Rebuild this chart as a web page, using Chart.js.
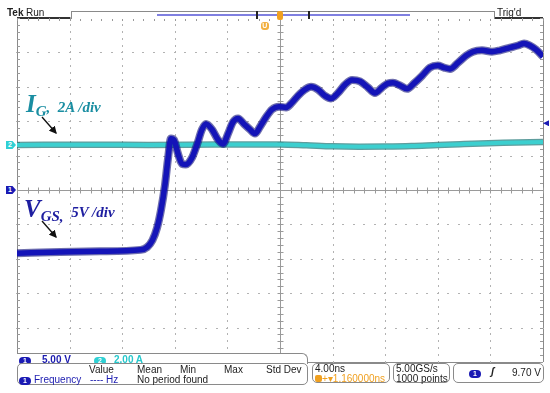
<!DOCTYPE html>
<html>
<head>
<meta charset="utf-8">
<script src="https://cdn.jsdelivr.net/npm/chart.js@4.4.1/dist/chart.umd.min.js"></script>
<style>
  body { margin: 0; background: #fff; }
  #wrap { position: relative; width: 550px; height: 393px; overflow: hidden; font-family: "Liberation Sans", Arial, sans-serif; color: #222; }
  #scope { position: absolute; left: 0; top: 0; }
  .t { position: absolute; white-space: nowrap; font-size: 10px; line-height: 10px; }
  .box { position: absolute; border: 1px solid #8a8a8a; border-radius: 5px; box-sizing: border-box; background: #fff; }
  .oval { display: inline-block; width: 12px; height: 8px; border-radius: 5px; color: #fff; font-size: 7px; line-height: 8px; text-align: center; font-weight: bold; vertical-align: 0px; }
  .b1 { background: #1a1ab4; }
  .b2 { background: #2fd0d4; }
  .blue { color: #1c1cb0; }
  .cyan { color: #27c8cc; }
  .orange { color: #f0a020; }
  .lbl { position: absolute; white-space: nowrap; font-family: "Liberation Serif", "DejaVu Serif", serif; font-weight: bold; font-style: italic; }
  .mk { position: absolute; width: 10px; height: 8px; color: #fff; font-size: 7px; line-height: 8px; font-weight: bold; text-indent: 2px;
        clip-path: polygon(0 0, 65% 0, 100% 50%, 65% 100%, 0 100%); }
</style>
</head>
<body>
<div id="wrap">
  <canvas id="scope" width="550" height="393"></canvas>

  <!-- top status line -->
  <div class="t" style="left:7px;top:8px;font-weight:bold;">Tek</div>
  <div class="t" style="left:26px;top:8px;">Run</div>
  <div style="position:absolute;left:71px;top:11px;width:424px;height:8px;border:1px solid #8a8a8a;border-bottom:none;box-sizing:border-box;background:#fff;"></div>
  <div style="position:absolute;left:157px;top:14px;width:253px;height:2px;background:#8080e0;"></div>
  <div style="position:absolute;left:256px;top:11px;width:2px;height:8px;background:#222;"></div>
  <div style="position:absolute;left:308px;top:11px;width:2px;height:8px;background:#222;"></div>
  <div class="t" style="left:497px;top:8px;">Trig'd</div>
  <div id="trigT" style="position:absolute;top:11px;width:6px;height:9px;background:#f0a020;border-radius:2px;"></div>
  <div id="trigU" class="t" style="top:22px;width:8px;height:8px;border-radius:3px;background:#f2b040;color:#fff;font-size:7px;line-height:8px;text-align:center;font-weight:bold;">U</div>

  <!-- channel markers -->
  <div id="mk2" class="mk" style="left:6px;background:#2fd0d4;">2</div>
  <div id="mk1" class="mk" style="left:6px;background:#1a1ab4;">1</div>
  <div id="trigLvl" style="position:absolute;left:543px;width:6px;height:6px;background:#1a1ab4;clip-path:polygon(0 50%,100% 0,100% 100%);"></div>

  <!-- trace labels -->
  <div class="lbl" style="left:26px;top:90px;color:#1a8ea2;"><span style="font-size:25px;">I</span><span style="font-size:15px;position:relative;top:4px;">G</span><span style="font-size:15px;">,&nbsp;&nbsp;2A /div</span></div>
  <div class="lbl" style="left:24px;top:195px;color:#1e1ea0;"><span style="font-size:25px;">V</span><span style="font-size:15px;position:relative;top:4px;">GS,</span><span style="font-size:15px;">&nbsp;&nbsp;5V /div</span></div>
  <svg style="position:absolute;left:0;top:0;" width="550" height="393">
    <defs><marker id="ah" markerWidth="6" markerHeight="6" refX="5" refY="3" orient="auto"><path d="M0,0 L6,3 L0,6 z" fill="#111"/></marker></defs>
    <line x1="42" y1="117" x2="56" y2="133" stroke="#111" stroke-width="1.3" marker-end="url(#ah)"/>
    <line x1="42" y1="221" x2="56" y2="237" stroke="#111" stroke-width="1.3" marker-end="url(#ah)"/>
  </svg>

  <!-- bottom readouts -->
  <div style="position:absolute;left:17px;top:353px;width:291px;height:11px;border-top:1px solid #8a8a8a;border-right:1px solid #8a8a8a;border-top-right-radius:6px;box-sizing:border-box;background:#fff;"></div>
  <div class="t" style="left:19px;top:355px;font-weight:bold;"><span class="oval b1">1</span><span class="blue" style="margin-left:11px;">5.00 V</span></div>
  <div class="t" style="left:94px;top:355px;font-weight:bold;"><span class="oval b2">2</span><span class="cyan" style="margin-left:8px;">2.00 A</span></div>

  <div class="box" style="left:17px;top:363px;width:291px;height:22px;"></div>
  <div class="t" style="left:89px;top:365px;">Value</div>
  <div class="t" style="left:137px;top:365px;">Mean</div>
  <div class="t" style="left:180px;top:365px;">Min</div>
  <div class="t" style="left:224px;top:365px;">Max</div>
  <div class="t" style="left:266px;top:365px;">Std Dev</div>
  <div class="t" style="left:19px;top:375px;"><span class="oval b1">1</span><span class="blue" style="margin-left:3px;">Frequency</span></div>
  <div class="t blue" style="left:90px;top:375px;">---- Hz</div>
  <div class="t" style="left:137px;top:375px;">No period found</div>

  <div class="box" style="left:312px;top:363px;width:78px;height:20px;"></div>
  <div class="t" style="left:315px;top:364px;">4.00ns</div>
  <div class="t orange" style="left:315px;top:374px;"><span style="display:inline-block;width:7px;height:7px;background:#f0a020;border-radius:2px;"></span>+▾1.160000ns</div>

  <div class="box" style="left:393px;top:363px;width:57px;height:20px;"></div>
  <div class="t" style="left:396px;top:364px;">5.00GS/s</div>
  <div class="t" style="left:396px;top:374px;">1000 points</div>

  <div class="box" style="left:453px;top:363px;width:91px;height:20px;"></div>
  <div class="t" style="left:469px;top:368px;"><span class="oval b1">1</span></div>
  <div class="t" style="left:491px;top:367px;font-style:italic;font-weight:bold;">ʃ</div>
  <div class="t" style="left:512px;top:368px;">9.70 V</div>
</div>

<script>
// horizontal: 4.00 ns/div, 10 divisions, trigger at centre
const nsPerDiv = 4;
const timeMin = -20, timeMax = 20;

// channel 1: V_GS, 5 V/div, ground at centre
const ch1VoltsPerDiv = 5;
const ch1OffsetDiv = 0;
const vgsTime = [-20, -16.7, -13.7, -10.6, -10.1, -9.7, -9.35, -9.05, -8.75, -8.52, -8.29, -8.06, -7.76, -7.45, -7.15,
  -6.69, -6.31, -5.93, -5.63, -5.17, -4.71, -4.33, -3.95, -3.57, -3.19, -2.74, -2.28, -1.90, -1.52, -1.06, -0.61, -0.08,
  0.46, 0.91, 1.37, 1.90, 2.36, 2.89, 3.42, 3.88, 4.41, 4.94, 5.48, 6.08, 6.69, 7.22, 7.76, 8.21, 8.59, 9.13, 9.66,
  10.19, 10.8, 11.4, 12.0, 12.47, 12.93, 13.54, 14.14, 14.68, 15.36, 16.12, 16.73, 17.49, 18.1, 18.56, 19.0, 19.47, 20.0];
const vgsVolts = [-9.2, -9.0, -8.9, -8.7, -8.3, -7.3, -5.5, -2.9, 0.7, 4.5, 7.5, 7.3, 5.3, 3.8, 3.7,
  4.7, 6.6, 8.8, 9.6, 8.8, 7.3, 6.7, 8.2, 9.9, 10.4, 9.6, 8.8, 8.2, 9.2, 10.6, 11.7, 12.1,
  12.0, 12.7, 13.7, 14.6, 15.0, 14.6, 13.7, 13.3, 14.1, 15.3, 16.0, 15.8, 14.9, 14.1, 14.9, 15.5, 15.6, 15.2, 14.7,
  15.5, 16.6, 17.8, 18.1, 17.8, 17.6, 18.5, 19.5, 20.1, 20.3, 20.1, 20.3, 20.7, 21.0, 21.3, 21.0, 20.4, 19.4];

// channel 2: I_G, 2 A/div
const ch2AmpsPerDiv = 2;
const ch2OffsetDiv = 1.31;
const igTime = [-20, -14, -10, -5, 0, 2, 4, 6, 8, 10, 12, 14, 17, 20];
const igAmps = [0, 0.01, 0, 0.02, 0.03, -0.02, -0.08, -0.1, -0.09, -0.06, 0, 0.05, 0.12, 0.17];

const trigLevelVolts = 9.70;
const trigDelayNs = -1.16;

const toPts = (ts, vs, perDiv, off) => ts.map((t, i) => ({ x: t, y: vs[i] / perDiv + off }));
const vgsPts = toPts(vgsTime, vgsVolts, ch1VoltsPerDiv, ch1OffsetDiv);
const igPts = toPts(igTime, igAmps, ch2AmpsPerDiv, ch2OffsetDiv);

// dotted Tek graticule + minor ticks on centre lines and borders
const graticule = {
  id: 'graticule',
  beforeDatasetsDraw(chart) {
    const { ctx, chartArea: a, scales: { x, y } } = chart;
    ctx.save();
    ctx.fillStyle = '#b2b2b2';
    for (let d = -4; d <= 4; d++) {
      if (d === 0) continue;
      const py = Math.round(y.getPixelForValue(d));
      for (let m = 0; m <= 50; m++) {
        const px = x.getPixelForValue(timeMin + m * nsPerDiv / 5);
        ctx.fillRect(Math.round(px) - 1, py, 2, 1);
      }
    }
    for (let d = timeMin + nsPerDiv; d < timeMax; d += nsPerDiv) {
      if (d === 0) continue;
      const px = Math.round(x.getPixelForValue(d));
      for (let m = 0; m <= 50; m++) {
        const py = y.getPixelForValue(-5 + m * 0.2);
        ctx.fillRect(px, Math.round(py) - 1, 1, 2);
      }
    }
    ctx.strokeStyle = '#9a9a9a';
    ctx.lineWidth = 1;
    ctx.beginPath();
    const x0 = Math.round(x.getPixelForValue(0)) + 0.5;
    const y0 = Math.round(y.getPixelForValue(0)) + 0.5;
    for (let m = 0; m <= 50; m++) {
      const px = Math.round(x.getPixelForValue(timeMin + m * nsPerDiv / 5)) + 0.5;
      ctx.moveTo(px, y0 - 3); ctx.lineTo(px, y0 + 3);
      ctx.moveTo(px, a.top); ctx.lineTo(px, a.top + 3);
      const py = Math.round(y.getPixelForValue(-5 + m * 0.2)) + 0.5;
      ctx.moveTo(x0 - 3, py); ctx.lineTo(x0 + 3, py);
      ctx.moveTo(a.left, py); ctx.lineTo(a.left + 3, py);
      ctx.moveTo(a.right, py); ctx.lineTo(a.right - 3, py);
    }
    ctx.stroke();
    ctx.restore();
  }
};

const solidGrid = (edge, edgeColor) => (c) => {
  const v = c.tick.value;
  if (v === 0) return '#9a9a9a';
  if (v === edge) return edgeColor;
  if (v === -edge) return '#8a8a8a';
  return 'rgba(0,0,0,0)';
};

const chart = new Chart(document.getElementById('scope'), {
  type: 'line',
  data: {
    datasets: [
      { data: vgsPts, borderColor: '#1414b8', borderWidth: 5.5, cubicInterpolationMode: 'monotone', pointRadius: 0, order: 0 },
      { data: vgsPts, borderColor: 'rgba(15,15,120,0.6)', borderWidth: 8, cubicInterpolationMode: 'monotone', pointRadius: 0, order: 1 },
      { data: igPts, borderColor: '#3ccfcf', borderWidth: 4, cubicInterpolationMode: 'monotone', pointRadius: 0, order: 2 },
      { data: igPts, borderColor: 'rgba(25,115,115,0.7)', borderWidth: 6.5, cubicInterpolationMode: 'monotone', pointRadius: 0, order: 3 }
    ]
  },
  options: {
    responsive: false,
    animation: false,
    devicePixelRatio: 1,
    layout: { padding: { left: 17, right: 7, top: 18, bottom: 31 } },
    plugins: { legend: { display: false }, tooltip: { enabled: false } },
    scales: {
      x: {
        type: 'linear', min: timeMin, max: timeMax,
        ticks: { display: false, stepSize: nsPerDiv },
        grid: { drawTicks: false, color: solidGrid(timeMax, '#8a8a8a') },
        border: { display: false }
      },
      y: {
        type: 'linear', min: -5, max: 5,
        ticks: { display: false, stepSize: 1 },
        grid: { drawTicks: false, color: solidGrid(5, '#333'), lineWidth: (c) => c.tick.value === 5 ? 2 : 1 },
        border: { display: false }
      }
    }
  },
  plugins: [graticule]
});

// place channel / trigger markers from the chart scales
const xs = chart.scales.x, ys = chart.scales.y;
document.getElementById('mk1').style.top = (ys.getPixelForValue(ch1OffsetDiv) - 4) + 'px';
document.getElementById('mk2').style.top = (ys.getPixelForValue(ch2OffsetDiv) - 4) + 'px';
document.getElementById('trigLvl').style.top = (ys.getPixelForValue(trigLevelVolts / ch1VoltsPerDiv + ch1OffsetDiv) - 3) + 'px';
document.getElementById('trigT').style.left = (xs.getPixelForValue(0) - 3) + 'px';
document.getElementById('trigU').style.left = (xs.getPixelForValue(trigDelayNs) - 4) + 'px';
</script>
</body>
</html>
